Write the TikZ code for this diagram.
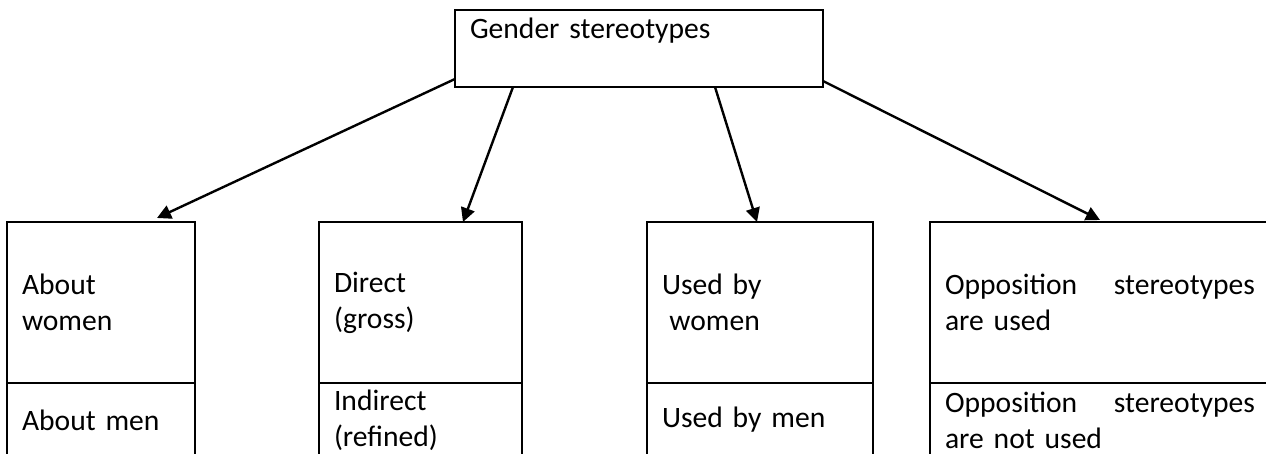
\documentclass[tikz,border=0pt]{standalone}
\usepackage{fontspec}
\setmainfont{Carlito}
\usetikzlibrary{arrows.meta,positioning}

\begin{document}
\begin{tikzpicture}[
      node distance=62pt,
      txt/.style={font=\fontsize{14.8pt}{18pt}\selectfont},
      rootbox/.style={draw,txt,line width=1.2pt,outer sep=0pt,align=left,
                      inner xsep=7.5pt,inner ysep=5pt,text width=169pt,
                      text height=9.5pt,text depth=19pt},
      cell/.style={draw,txt,line width=1.2pt,outer sep=0pt,align=left,
                   inner xsep=7.5pt},
      upper/.style={cell,minimum height=80.5pt},
      lower/.style={cell,minimum height=37pt},
      arr/.style={-{Triangle[length=7pt,width=7pt]},line width=1.2pt}]
    \useasboundingbox (0,0) rectangle (633pt,227pt);
    \clip (0,0) rectangle (633pt,227pt);
    \node[rootbox,anchor=north west] (gs) at (227.5pt,222pt) {Gender stereotypes};
    \node[upper,text width=79pt,anchor=north west] (aw) at (3.5pt,116pt) {About\\women};
    \node[upper,text width=86.5pt,right=62pt of aw] (dg) {Direct\\(gross)};
    \node[upper,text width=98pt,right=62.5pt of dg] (uw) {Used by\\\hspace{0.25em}women};
    \node[upper,text width=155pt,right=28.5pt of uw] (op) {Opposition\hfill stereotypes\\are used};
    \node[lower,text width=79pt,below=0pt of aw] (am) {About men};
    \node[lower,text width=86.5pt,below=0pt of dg] (ir) {Indirect\\(refined)};
    \node[lower,text width=98pt,below=0pt of uw] (um) {Used by men};
    \node[lower,text width=155pt,below=0pt of op] (np) {Opposition\hfill stereotypes\\are not used};
    \draw[arr] ([yshift=4pt]gs.south west) -- ([xshift=75pt,yshift=2pt]aw.north west);
    \draw[arr] ([xshift=29pt]gs.south west) -- ([xshift=72pt]dg.north west);
    \draw[arr] ([xshift=130pt]gs.south west) -- ([xshift=55pt]uw.north west);
    \draw[arr] ([yshift=3pt]gs.south east) -- ([xshift=85pt,yshift=1pt]op.north west);
  \end{tikzpicture}
\end{document}
